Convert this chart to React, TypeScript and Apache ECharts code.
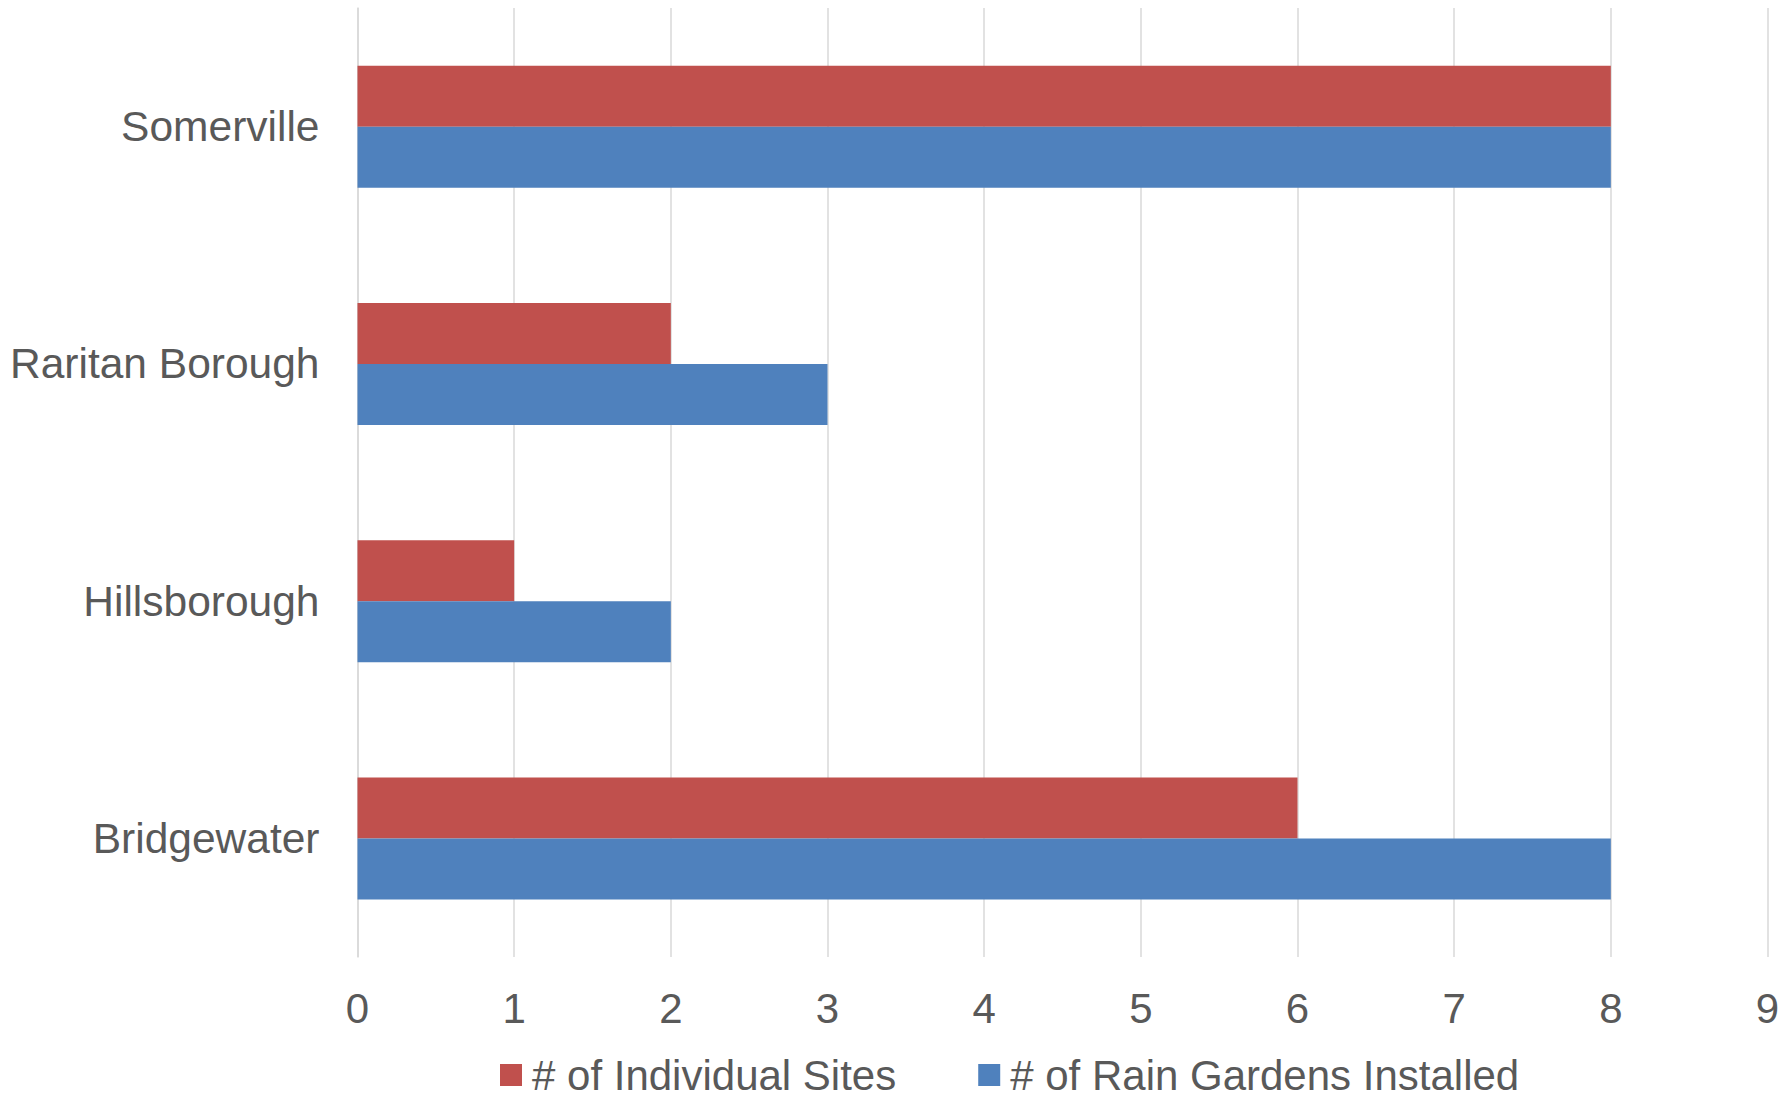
import React, { useEffect, useRef } from "react";
import * as echarts from "echarts";

const categories = ["Bridgewater", "Hillsborough", "Raritan Borough", "Somerville"];
const individualSites = [6, 1, 2, 8];
const rainGardens = [8, 2, 3, 8];
const seriesNames = ["# of Individual Sites", "# of Rain Gardens Installed"];
const xTicks = { min: 0, max: 9, interval: 1 };

export default function App() {
  const ref = useRef<HTMLDivElement>(null);
  useEffect(() => {
    const chart = echarts.init(ref.current!, null, { renderer: "svg" });
    const font = "'Liberation Sans', Arial, sans-serif";
    chart.setOption({
      animation: false,
      textStyle: { fontFamily: font },
      grid: { left: 357.5, right: 24.5, top: 8, bottom: 142, containLabel: false },
      legend: {
        data: seriesNames,
        left: 500,
        top: 1054,
        padding: 0,
        icon: "rect",
        itemWidth: 22,
        itemHeight: 22,
        itemGap: 82,
        textStyle: {
          fontSize: 42,
          lineHeight: 34,
          color: "#595959",
          fontFamily: font,
          padding: [0, 0, 0, 5],
        },
      },
      xAxis: {
        type: "value",
        min: xTicks.min,
        max: xTicks.max,
        interval: xTicks.interval,
        axisLine: { show: false },
        axisTick: { show: false },
        axisLabel: { fontSize: 42, color: "#595959", margin: 30, fontFamily: font },
        splitLine: { show: true, lineStyle: { color: "#D9D9D9", width: 1.5 } },
      },
      yAxis: {
        type: "category",
        data: categories,
        axisLine: { show: true, lineStyle: { color: "#D9D9D9", width: 1.5 } },
        axisTick: { show: false },
        axisLabel: { fontSize: 42.5, color: "#595959", margin: 38, fontFamily: font },
        splitLine: { show: false },
      },
      series: [
        {
          name: seriesNames[0],
          type: "bar",
          data: individualSites,
          barWidth: 61,
          barGap: "0%",
          itemStyle: { color: "#C0504D" },
        },
        {
          name: seriesNames[1],
          type: "bar",
          data: rainGardens,
          barWidth: 61,
          barGap: "0%",
          itemStyle: { color: "#4F81BD" },
        },
      ],
    });
    return () => chart.dispose();
  }, []);
  return (
    <div
      ref={ref}
      style={{ position: "absolute", left: 0, top: 0, width: 1792, height: 1099 }}
    />
  );
}
